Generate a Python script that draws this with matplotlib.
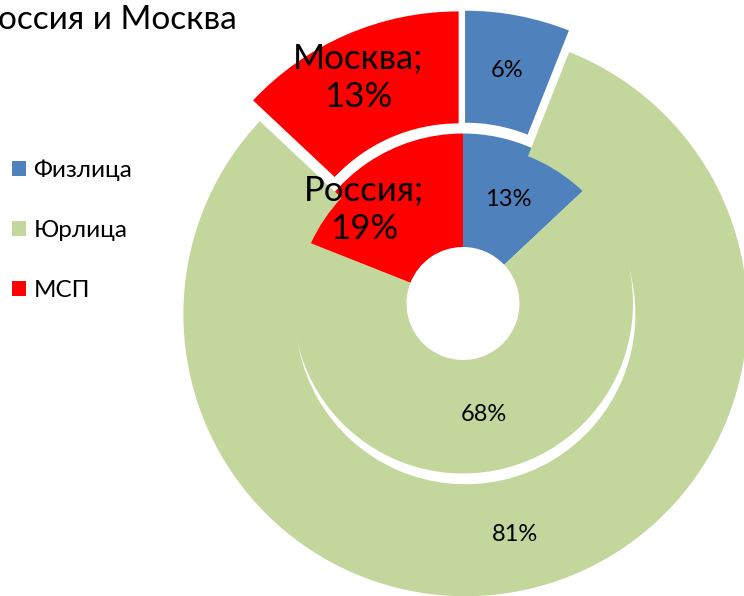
import matplotlib
matplotlib.use("Agg")
import matplotlib.pyplot as plt

plt.rcParams['font.family'] = ['Lato', 'DejaVu Sans']

title = "Россия и Москва"
categories = ["Физлица", "Юрлица", "МСП"]
colors = ["#4F81BD", "#C3D69B", "#FF0000"]

russia = [13, 68, 19]      # inner ring
moscow = [6, 81, 13]       # outer ring, exploded
russia_name = "Россия"
moscow_name = "Москва"

S = 282.0                  # px per data unit (outer radius)
cx, cy = 463.0, 303.5      # centre in px
W, H = 744, 596

fig = plt.figure(figsize=(W / 100, H / 100), dpi=100)
ax = fig.add_axes([0, 0, 1, 1])

r_out = 1.0
r_mid = 170 / S
r_hole = 56.5 / S
expl = 11 / S

# inner ring first so the exploded outer ring sits over it
w_in, _, t_in = ax.pie(russia, radius=r_mid, startangle=90, counterclock=False,
                       colors=colors, autopct="%d%%",
                       pctdistance=((r_mid + r_hole) / 2) / r_mid,
                       wedgeprops=dict(width=r_mid - r_hole, linewidth=0),
                       textprops=dict(fontsize=17, color="black"))
w_out, _, t_out = ax.pie(moscow, radius=r_out, startangle=90, counterclock=False,
                         colors=colors, autopct="%d%%",
                         pctdistance=((r_out + r_mid) / 2) / r_out,
                         explode=[expl] * 3,
                         wedgeprops=dict(width=r_out - r_mid, linewidth=0),
                         textprops=dict(fontsize=17, color="black"))

for t in t_in + t_out:
    t.set_zorder(10)

# bigger labels with the series name on the red slices
for t, name, val, dx, dy in [(t_out[2], moscow_name, moscow[2], -11, 8),
                             (t_in[2], russia_name, russia[2], -35, 0)]:
    t.set_text(f"{name};\n{val}%")
    t.set_fontsize(25)
    t.set_linespacing(1.25)
    x, y = t.get_position()
    t.set_position((x + dx / S, y + dy / S))

ax.set_xlim(-cx / S, (W - cx) / S)
ax.set_ylim(-(H - cy) / S, cy / S)
ax.axis("off")

# title is clipped at the left edge in the original, keep it that way
fig.text(237 / W, 1 - 20 / H, title, ha="right", va="center", fontsize=24)

fig.legend(w_out, categories, loc="upper left", bbox_to_anchor=(2 / W, 1 - 150 / H),
           frameon=False, fontsize=17.5, labelspacing=1.6, handlelength=0.6,
           handleheight=0.6, handletextpad=0.3, borderaxespad=0)

fig.savefig("out.png", dpi=100)
